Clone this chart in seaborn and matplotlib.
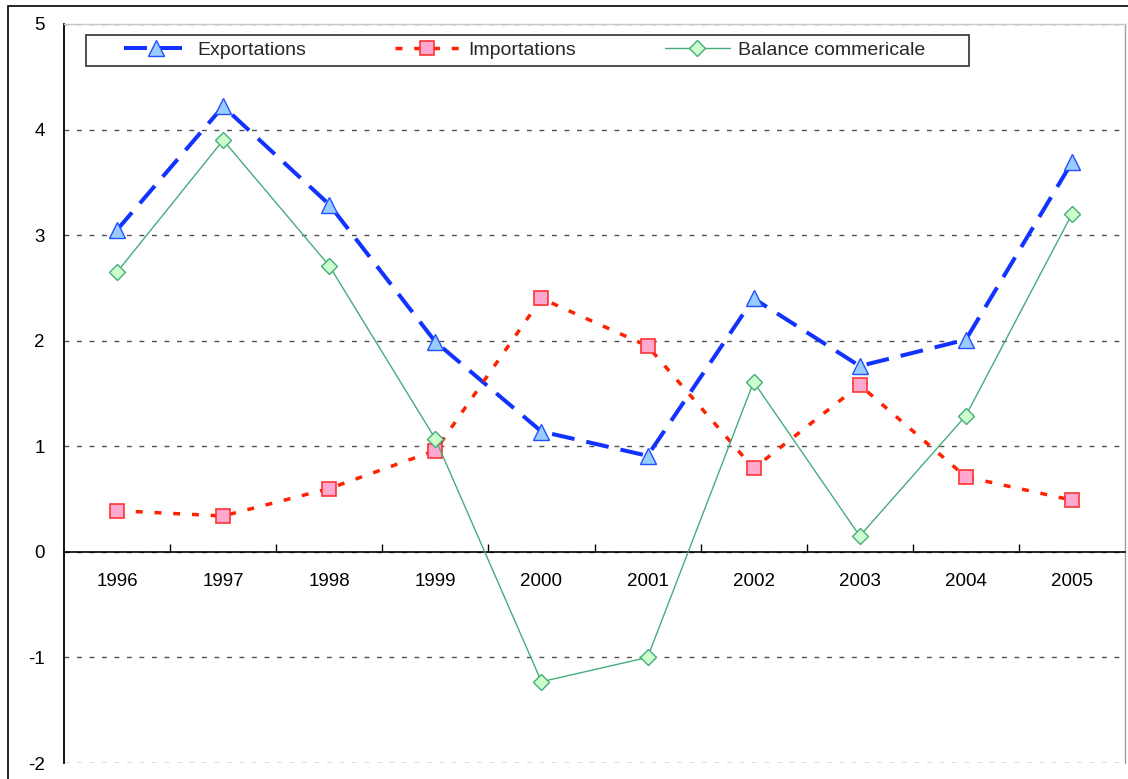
import matplotlib
matplotlib.use("Agg")
import matplotlib.pyplot as plt
import seaborn as sns
import numpy as np
from matplotlib.patches import Rectangle
from matplotlib.ticker import FixedLocator

# ---- data ----
years = ["1996", "1997", "1998", "1999", "2000", "2001", "2002", "2003", "2004", "2005"]
exportations = [3.05, 4.22, 3.29, 1.99, 1.14, 0.91, 2.40, 1.76, 2.01, 3.69]
importations = [0.39, 0.34, 0.60, 0.96, 2.40, 1.95, 0.79, 1.58, 0.71, 0.49]
balance = [2.65, 3.90, 2.71, 1.07, -1.23, -1.00, 1.61, 0.15, 1.29, 3.20]
series_names = ["Exportations", "Importations", "Balance commericale"]
y_ticks = [-2, -1, 0, 1, 2, 3, 4, 5]

sns.set_theme(style="white")
plt.rcParams["font.family"] = ["Liberation Sans", "DejaVu Sans"]
plt.rcParams["axes.unicode_minus"] = False

W, H = 1128, 779
fig = plt.figure(figsize=(W / 100, H / 100), dpi=100)
fig.patch.set_facecolor("white")
ax = fig.add_axes([64 / W, 1 - 763 / H, (1125 - 64) / W, (763 - 24) / H])
ax.set_facecolor("white")

# outer chart border (left and top visible)
fig.add_artist(Rectangle((8 / W, -0.05), 1.2, (1 - 5.5 / H) + 0.05, transform=fig.transFigure,
                         fill=False, edgecolor="black", linewidth=1.2))

sns.lineplot(x=years, y=exportations, ax=ax, color="#1233FF", linewidth=2.9,
             linestyle=(0, (5.7, 3.0)), marker="^", markersize=11.5,
             markerfacecolor="#99CCFF", markeredgecolor="#2050FF", markeredgewidth=1.0,
             label=series_names[0], zorder=3)
sns.lineplot(x=years, y=importations, ax=ax, color="#FF2200", linewidth=2.5,
             linestyle=(0, (2.0, 3.4)), marker="s", markersize=10,
             markerfacecolor="#FFA8D0", markeredgecolor="#FF3333", markeredgewidth=1.2,
             label=series_names[1], zorder=3)
sns.lineplot(x=years, y=balance, ax=ax, color="#45AD7C", linewidth=1.0,
             marker="D", markersize=8,
             markerfacecolor="#CCFFCC", markeredgecolor="#45AD7C", markeredgewidth=1.0,
             label=series_names[2], zorder=3)

ax.set_xlim(-0.5, len(years) - 0.5)
ax.set_ylim(min(y_ticks), max(y_ticks))
ax.set_yticks(y_ticks)
ax.set_xlabel("")
ax.set_ylabel("")

# grid
ax.yaxis.grid(True, color="#505050", linestyle=(0, (3.5, 5.5)), linewidth=1.0)
ax.xaxis.grid(False)
ax.set_axisbelow(True)

# spines
ax.spines["bottom"].set_position(("data", 0))
ax.spines["bottom"].set_color("black")
ax.spines["bottom"].set_linewidth(1.2)
ax.spines["left"].set_color("black")
ax.spines["left"].set_linewidth(1.3)
ax.spines["top"].set_color("#c8c8c8")
ax.spines["top"].set_linewidth(1.0)
ax.spines["right"].set_color("#a0a0a0")
ax.spines["right"].set_linewidth(1.0)

# ticks
ax.xaxis.set_minor_locator(FixedLocator(np.arange(len(years) - 1) + 0.5))
ax.tick_params(axis="x", which="major", length=0, pad=15, labelsize=13.5, labelcolor="black")
ax.tick_params(axis="x", which="minor", bottom=True, direction="in", length=6, width=1.0, color="black")
ax.tick_params(axis="y", which="major", left=False, length=0, pad=14, labelsize=13.5, labelcolor="black")

# legend
handles, labels = ax.get_legend_handles_labels()
ax.legend(handles, labels, ncol=3, frameon=False, loc="center left",
          bbox_to_anchor=(124 / W, 1 - 50.5 / H), bbox_transform=fig.transFigure,
          borderpad=0, borderaxespad=0, handlelength=3.3, handletextpad=0.45,
          columnspacing=4.6, fontsize=14)
fig.add_artist(Rectangle((86 / W, 1 - 66 / H), (969 - 86) / W, 31 / H, transform=fig.transFigure,
                         fill=False, edgecolor="#404040", linewidth=1.3))

fig.savefig("out.png", dpi=100)
